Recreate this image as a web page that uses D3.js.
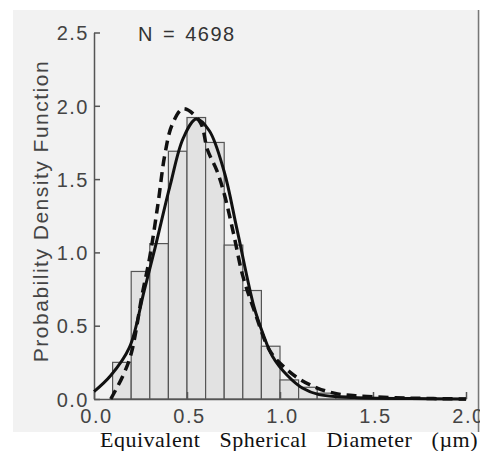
<!DOCTYPE html>
<html>
<head>
<meta charset="utf-8">
<script src="https://cdn.jsdelivr.net/npm/d3@7"></script>
<style>
  html, body { margin: 0; padding: 0; background: #fff; overflow: hidden; }
  svg { display: block; }
</style>
</head>
<body>
<svg id="viz"></svg>
<script>
// 1. Data
const binStarts = [0.1, 0.2, 0.3, 0.4, 0.5, 0.6, 0.7, 0.8, 0.9, 1.0, 1.1, 1.2, 1.3];
const binHeights = [0.25, 0.87, 1.06, 1.69, 1.92, 1.75, 1.05, 0.74, 0.36, 0.13, 0.08, 0.04, 0.02];
const binWidth = 0.1;

// solid fitted curve
const solidX = [0.0, 0.09, 0.19, 0.27, 0.33, 0.41, 0.48, 0.55, 0.62, 0.70, 0.77, 0.86, 0.91, 0.96, 1.04, 1.12, 1.21, 1.40, 1.70, 2.0];
const solidY = [0.05, 0.16, 0.35, 0.74, 1.04, 1.46, 1.78, 1.91, 1.83, 1.55, 1.15, 0.63, 0.44, 0.29, 0.16, 0.075, 0.03, 0.01, 0.003, 0.0];

// dashed fitted curve
const dashX = [0.09, 0.156, 0.20, 0.26, 0.30, 0.345, 0.38, 0.42, 0.48, 0.57, 0.61, 0.66, 0.70, 0.75, 0.80, 0.86, 0.945, 1.02, 1.10, 1.20, 1.31, 1.43, 1.70, 2.0];
const dashY = [0.0, 0.16, 0.31, 0.72, 0.97, 1.34, 1.66, 1.87, 1.98, 1.89, 1.70, 1.56, 1.40, 1.13, 0.84, 0.61, 0.33, 0.22, 0.14, 0.075, 0.035, 0.02, 0.006, 0.0];

const xTicks = [0.0, 0.5, 1.0, 1.5, 2.0];
const yTicks = [0.0, 0.5, 1.0, 1.5, 2.0, 2.5];

// 2. Canvas
const width = 480, height = 451;
const svg = d3.select("#viz").attr("width", width).attr("height", height);

const sans = "'Liberation Sans', Arial, sans-serif";

// gray scanned panel
svg.append("rect")
   .attr("x", 13).attr("y", 10)
   .attr("width", 467).attr("height", 422)
   .attr("fill", "#f2f2f2");
svg.append("line")
   .attr("x1", 478.5).attr("x2", 478.5).attr("y1", 10).attr("y2", 432)
   .attr("stroke", "#777").attr("stroke-width", 1.5);

// 3. Scales
const x = d3.scaleLinear().domain([0, 2]).range([94, 466]);
const y = d3.scaleLinear().domain([0, 2.5]).range([399, 32.5]);

// 4. Histogram bars
const bins = binStarts.map((s, i) => ({ x0: s, h: binHeights[i] }));
svg.append("g").selectAll("rect")
   .data(bins)
   .enter()
   .append("rect")
   .attr("x", d => x(d.x0))
   .attr("y", d => y(d.h))
   .attr("width", d => x(d.x0 + binWidth) - x(d.x0))
   .attr("height", d => y(0) - y(d.h))
   .attr("fill", "#e2e2e2")
   .attr("stroke", "#555")
   .attr("stroke-width", 1.2);

// 5. Axes (ticks point inward)
const axisColor = "#555";
const xAxis = svg.append("g")
   .attr("transform", "translate(0," + y(0) + ")")
   .call(d3.axisBottom(x).tickValues(xTicks).tickSizeInner(-7).tickSizeOuter(0)
          .tickFormat(d3.format(".1f")));
const yAxis = svg.append("g")
   .attr("transform", "translate(" + x(0) + ",0)")
   .call(d3.axisLeft(y).tickValues(yTicks).tickSizeInner(-6).tickSizeOuter(0)
          .tickFormat(d3.format(".1f")));

[xAxis, yAxis].forEach(a => {
  a.select(".domain").attr("stroke", axisColor).attr("stroke-width", 1.5);
  a.selectAll(".tick line").attr("stroke", axisColor).attr("stroke-width", 1.5);
  a.selectAll(".tick text")
   .attr("fill", "#444")
   .attr("font-family", sans)
   .attr("font-size", 20)
   .attr("letter-spacing", 1.5);
});
xAxis.selectAll(".tick text").attr("y", 24).attr("dy", null).attr("dx", "0.1em");
yAxis.selectAll(".tick text").attr("x", -5).attr("dy", "0.36em");

// 6. Fitted curves
const line = d3.line()
   .x(d => x(d[0]))
   .y(d => y(d[1]))
   .curve(d3.curveCatmullRom.alpha(0.5));

svg.append("path")
   .datum(solidX.map((v, i) => [v, solidY[i]]))
   .attr("d", line)
   .attr("fill", "none")
   .attr("stroke", "#111")
   .attr("stroke-width", 3)
   .attr("stroke-linejoin", "round");

svg.append("path")
   .datum(dashX.map((v, i) => [v, dashY[i]]))
   .attr("d", line)
   .attr("fill", "none")
   .attr("stroke", "#111")
   .attr("stroke-width", 3.5)
   .attr("stroke-dasharray", "10,6");

// 7. Texts
svg.append("text")
   .attr("x", 138).attr("y", 41)
   .attr("font-family", sans)
   .attr("font-size", 20)
   .attr("letter-spacing", 1.5)
   .attr("word-spacing", 2)
   .attr("fill", "#333")
   .text("N = 4698");

svg.append("text")
   .attr("transform", "translate(48," + 211 + ") rotate(-90)")
   .attr("text-anchor", "middle")
   .attr("font-family", sans)
   .attr("font-size", 21)
   .attr("letter-spacing", 1.5)
   .attr("fill", "#444")
   .text("Probability Density Function");

// x-axis title: wide gaps between words, as in the scan
const xTitle = svg.append("text")
   .attr("x", 100).attr("y", 447)
   .attr("font-family", "'Liberation Serif', 'Times New Roman', serif")
   .attr("font-size", 22)
   .attr("letter-spacing", 0.5)
   .attr("fill", "#111")
   .text("Equivalent Spherical Diameter (\u00b5m)");
const natural = xTitle.node().getComputedTextLength();
xTitle.attr("word-spacing", Math.max(0, Math.min(16, (378 - natural) / 3)));
</script>
</body>
</html>
